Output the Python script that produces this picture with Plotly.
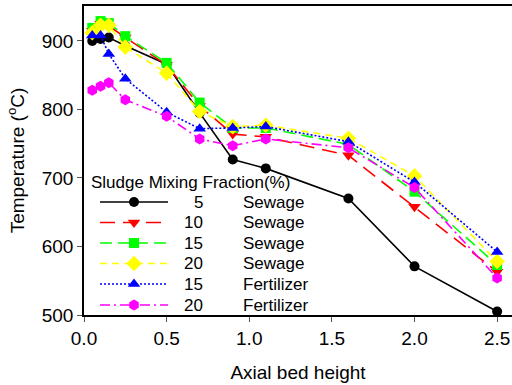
import plotly.graph_objects as go

# ---- data ----
heights = [0.05, 0.1, 0.15, 0.25, 0.5, 0.7, 0.9, 1.1, 1.6, 2.0, 2.5]
sewage_5 = [900, 903, 905, 893, 866, 795, 727, 714, 670, 571, 505]
sewage_10 = [915, 925, 922, 905, 865, 805, 764, 760, 733, 658, 563]
sewage_15 = [919, 929, 926, 907, 868, 810, 773, 773, 749, 680, 573]
sewage_20 = [912, 923, 923, 891, 853, 797, 775, 777, 758, 703, 578]
fert_15 = [908, 908, 881, 845, 796, 772, 773, 775, 753, 694, 592]
fert_20 = [828, 834, 839, 814, 790, 757, 747, 757, 744, 686, 554]

fractions = ["5", "10", "15", "20", "15", "20"]
sources = ["Sewage", "Sewage", "Sewage", "Sewage", "Fertilizer", "Fertilizer"]
legend_title = "Sludge Mixing Fraction(%)"
x_ticks = [0.0, 0.5, 1.0, 1.5, 2.0, 2.5]
x_ticktext = ["0.0", "0.5", "1.0", "1.5", "2.0", "2.5"]
y_ticks = [500, 600, 700, 800, 900]

series = [sewage_5, sewage_10, sewage_15, sewage_20, fert_15, fert_20]
styles = [
    dict(color="#000000", dash="solid", symbol="circle", size=10),
    dict(color="#FF0000", dash="15px,8px", symbol="triangle-down", size=11),
    dict(color="#00FF00", dash="12px,6px", symbol="square", size=10),
    dict(color="#FFFF00", dash="7px,5px", symbol="diamond", size=12),
    dict(color="#0000FF", dash="2px,2px", symbol="triangle-up", size=11),
    dict(color="#FF00FF", dash="10px,4px,2px,4px", symbol="hexagon", size=11),
]

FONT = "Arial, Liberation Sans, sans-serif"
fig = go.Figure()

for vals, st, fr, src in zip(series, styles, fractions, sources):
    fig.add_trace(go.Scatter(
        x=heights, y=vals, mode="lines+markers",
        name=f"{fr} {src}", showlegend=False,
        line=dict(color=st["color"], width=1.6, dash=st["dash"]),
        marker=dict(symbol=st["symbol"], size=st["size"], color=st["color"],
                    line=dict(width=0)),
    ))

# ---- custom legend on a pixel-like overlay axis ----
row_y = [202, 222.5, 243, 263.5, 284, 305]
for i, (st, fr, src) in enumerate(zip(styles, fractions, sources)):
    y = row_y[i]
    fig.add_trace(go.Scatter(
        x=[100, 168], y=[y, y], mode="lines", xaxis="x2", yaxis="y2",
        showlegend=False, hoverinfo="skip",
        line=dict(color=st["color"], width=1.6, dash=st["dash"]),
    ))
    fig.add_trace(go.Scatter(
        x=[134], y=[y], mode="markers", xaxis="x2", yaxis="y2",
        showlegend=False, hoverinfo="skip",
        marker=dict(symbol=st["symbol"], size=st["size"], color=st["color"],
                    line=dict(width=0)),
    ))
    fig.add_annotation(x=205, y=y, xref="x2", yref="y2", text=fr,
                       showarrow=False, xanchor="right", yanchor="middle",
                       font=dict(family=FONT, size=17, color="black"))
    fig.add_annotation(x=241, y=y, xref="x2", yref="y2", text=src,
                       showarrow=False, xanchor="left", yanchor="middle",
                       font=dict(family=FONT, size=17, color="black"))

fig.add_annotation(x=89, y=182, xref="x2", yref="y2", text=legend_title,
                   showarrow=False, xanchor="left", yanchor="middle",
                   font=dict(family=FONT, size=17, color="black"))

fig.update_layout(
    width=512, height=385,
    margin=dict(l=84, r=0, t=6, b=70),
    paper_bgcolor="white", plot_bgcolor="white",
    font=dict(family=FONT, size=19, color="black"),
    showlegend=False,
    xaxis=dict(
        range=[0, 2.59], tickmode="array", tickvals=x_ticks, ticktext=x_ticktext,
        ticks="outside", ticklen=5, tickcolor="#555", showgrid=False,
        zeroline=False, showline=True, linecolor="black", linewidth=1.5,
        mirror=True, tickfont=dict(size=19),
        title=dict(text="Axial bed height", font=dict(size=19), standoff=18),
    ),
    yaxis=dict(
        range=[500, 951], tickmode="array", tickvals=y_ticks,
        ticks="outside", ticklen=5, tickcolor="#555", showgrid=False,
        zeroline=False, showline=True, linecolor="black", linewidth=1.5,
        tickfont=dict(size=19),
        title=dict(text="Temperature (<sup>o</sup>C)", font=dict(size=19), standoff=12),
    ),
    xaxis2=dict(range=[84, 512], overlaying="x", visible=False, anchor="y2"),
    yaxis2=dict(range=[315, 6], overlaying="y", visible=False, anchor="x2"),
)

fig.write_html("out.html")
